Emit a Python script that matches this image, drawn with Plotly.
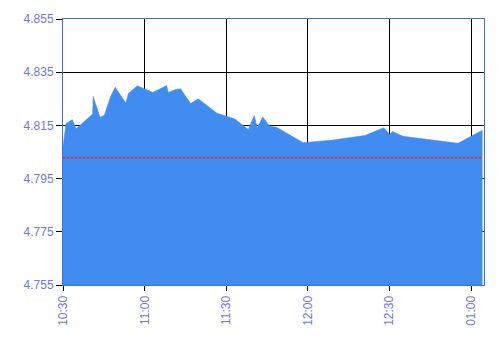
import plotly.graph_objects as go

day = "2024-01-02 "
times = ["10:30:00", "10:31:06", "10:33:24", "10:34:48", "10:40:54", "10:41:06",
         "10:43:36", "10:45:12", "10:47:30", "10:49:12", "10:53:06", "10:54:06",
         "10:57:18", "11:03:00", "11:08:06", "11:08:42", "11:11:06", "11:13:12",
         "11:16:54", "11:19:42", "11:26:30", "11:33:12", "11:38:06", "11:40:18",
         "11:41:24", "11:43:24", "11:46:00", "11:48:30", "11:58:18", "12:09:12",
         "12:20:54", "12:27:54", "12:30:06", "12:31:06", "12:35:00", "12:55:12",
         "13:00:30", "13:04:12"]
prices = [4.8070, 4.8156, 4.8172, 4.8137, 4.8193, 4.8259,
          4.8181, 4.8188, 4.8259, 4.8293, 4.8234, 4.8271,
          4.8299, 4.8274, 4.8300, 4.8274, 4.8284, 4.8288,
          4.8232, 4.8250, 4.8197, 4.8174, 4.8135, 4.8187,
          4.8141, 4.8182, 4.8147, 4.8143, 4.8085, 4.8095,
          4.8112, 4.8141, 4.8116, 4.8127, 4.8109, 4.8083,
          4.8112, 4.8132]
prev_close = 4.8028

x_tick_times = ["10:30", "11:00", "11:30", "12:00", "12:30", "13:00"]
x_tick_labels = ["10:30", "11:00", "11:30", "12:00", "12:30", "01:00"]
y_ticks = [4.755, 4.775, 4.795, 4.815, 4.835, 4.855]

label_color = "#6f76e4"
border_color = "#3f6fdc"
fill_color = "#418cf0"

fig = go.Figure()
fig.add_trace(go.Scatter(
    x=[day + t for t in times], y=prices, mode="lines",
    line=dict(color=fill_color, width=0.5),
    fill="tozeroy", fillcolor=fill_color, hoverinfo="skip", showlegend=False))

fig.add_shape(type="line", xref="paper", yref="y", x0=0, x1=0.995,
              y0=prev_close, y1=prev_close,
              line=dict(color="#f02a2a", width=2, dash="2px,2px"))

fig.update_layout(
    width=500, height=340,
    margin=dict(l=63, r=16, t=17, b=55),
    paper_bgcolor="white", plot_bgcolor="white",
    font=dict(family="Liberation Sans, Arial, sans-serif", size=12, color=label_color),
    xaxis=dict(
        type="date",
        range=[day + "10:30:00", day + "13:04:45"],
        tickvals=[day + t + ":00" for t in x_tick_times],
        ticktext=x_tick_labels,
        tickangle=-90,
        showgrid=True, gridcolor="black", gridwidth=1,
        showline=True, linecolor=border_color, linewidth=1, mirror=True,
        ticks="outside", ticklen=5, tickcolor="black",
        tickfont=dict(color=label_color, size=12),
        zeroline=False, fixedrange=True,
    ),
    yaxis=dict(
        range=[4.755, 4.855],
        tickvals=y_ticks,
        tickformat=".3f",
        showgrid=True, gridcolor="black", gridwidth=1,
        showline=True, linecolor=border_color, linewidth=1, mirror=True,
        ticks="outside", ticklen=6, tickcolor="black",
        tickfont=dict(color=label_color, size=12),
        zeroline=False, fixedrange=True,
    ),
)

fig.write_html("out.html")
